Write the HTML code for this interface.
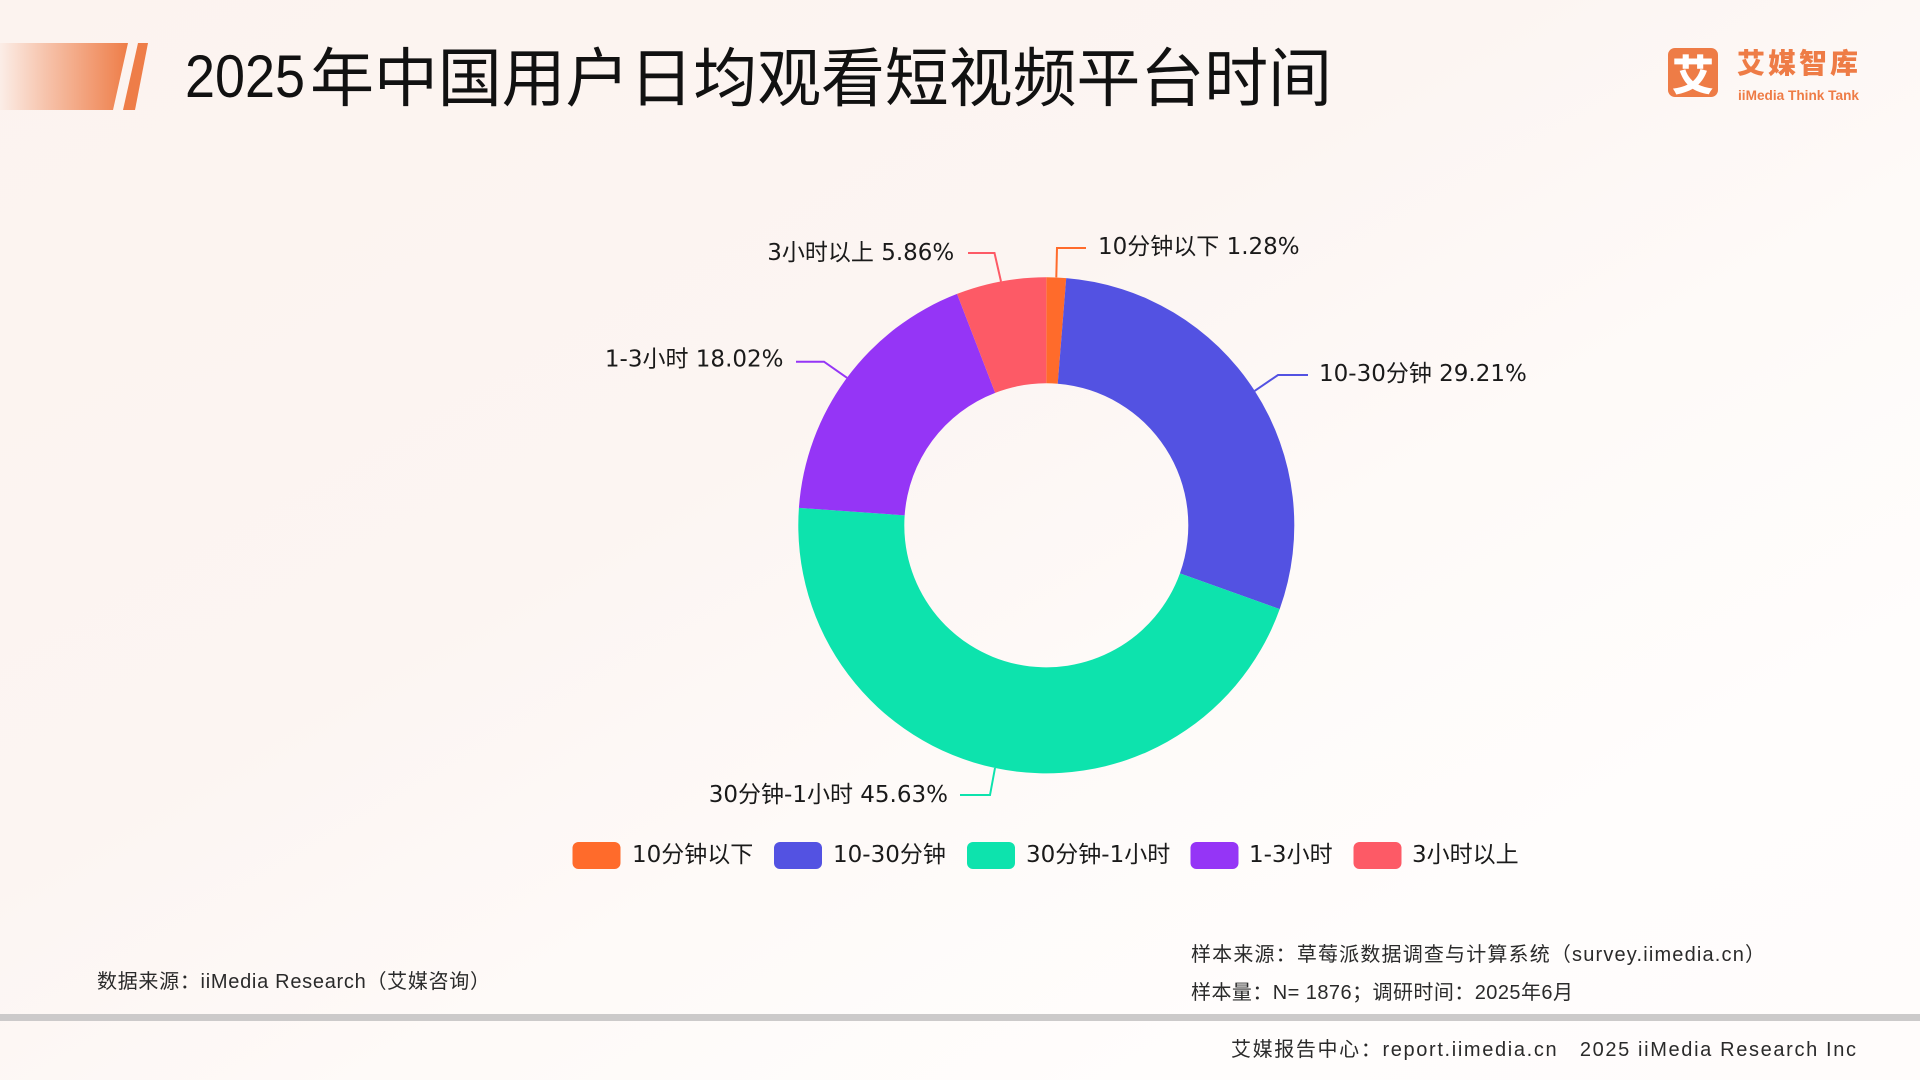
<!DOCTYPE html>
<html>
<head>
<meta charset="utf-8">
<style>
  html,body{margin:0;padding:0;}
  body{width:1920px;height:1080px;overflow:hidden;
    background:linear-gradient(150deg,#FCF3EF 0%,#FCF5F2 40%,#FEFAF8 60%,#FFFDFC 80%,#FFFCFB 100%);}
  svg{display:block;}
  .pre{white-space:pre;}
</style>
</head>
<body>
<svg width="1920" height="1080" viewBox="0 0 1920 1080" xmlns="http://www.w3.org/2000/svg">
  <defs>
    <linearGradient id="bar" x1="0" y1="0" x2="1" y2="0">
      <stop offset="0" stop-color="#EE7D48" stop-opacity="0.05"/>
      <stop offset="0.35" stop-color="#EE7D48" stop-opacity="0.4"/>
      <stop offset="1" stop-color="#EE7D48" stop-opacity="1"/>
    </linearGradient>
  </defs>

  <!-- header decoration -->
  <polygon points="0,43 128,43 113,110 0,110" fill="url(#bar)"/>
  <polygon points="138,43 148,43 135,110 123,110" fill="#EE7D48"/>

  <!-- title -->
  <text x="185" y="97" font-family="Liberation Sans, sans-serif" font-size="60" textLength="120" lengthAdjust="spacingAndGlyphs" fill="#111">2025</text>
  <text x="310" y="101" font-family="Noto Sans CJK SC, sans-serif" font-size="64" textLength="1022" lengthAdjust="spacing" fill="#111">年中国用户日均观看短视频平台时间</text>

  <!-- logo -->
  <rect x="1668" y="48" width="50" height="49" rx="7" fill="#EE7C46"/>
  <text x="1693" y="73" text-anchor="middle" dominant-baseline="central" font-family="Noto Sans CJK SC, sans-serif" font-weight="900" font-size="42" fill="#fff">艾</text>
  <text x="1737" y="62" dominant-baseline="central" font-family="Noto Sans CJK SC, sans-serif" font-weight="900" font-size="28" textLength="121" lengthAdjust="spacing" fill="#EE7C46">艾媒智库</text>
  <text x="1738" y="100" font-family="Liberation Sans, sans-serif" font-weight="700" font-size="13.5" textLength="121" lengthAdjust="spacingAndGlyphs" fill="#EE7C46">iiMedia Think Tank</text>

  <!-- donut -->
  <path d="M1046.3,277.3 A248,248 0 0 1 1066.22,278.10 L1057.71,383.76 A142,142 0 0 0 1046.3,383.3 Z" fill="#FF6B2B"/>
  <path d="M1066.22,278.10 A248,248 0 0 1 1279.69,609.17 L1179.94,573.32 A142,142 0 0 0 1057.71,383.76 Z" fill="#5352E2"/>
  <path d="M1279.69,609.17 A248,248 0 0 1 798.91,507.86 L904.65,515.32 A142,142 0 0 0 1179.94,573.32 Z" fill="#0DE3AD"/>
  <path d="M798.91,507.86 A248,248 0 0 1 957.04,293.92 L995.19,392.82 A142,142 0 0 0 904.65,515.32 Z" fill="#9535F6"/>
  <path d="M957.04,293.92 A248,248 0 0 1 1046.3,277.3 L1046.3,383.3 A142,142 0 0 0 995.19,392.82 Z" fill="#FD5A66"/>

  <!-- leader lines -->
  <g fill="none" stroke-width="2">
    <polyline points="1056.3,277.3 1057,248 1086,248" stroke="#FF6B2B"/>
    <polyline points="1254.6,390.9 1278,375 1308,375" stroke="#5352E2"/>
    <polyline points="995,768 990,795 960,795" stroke="#0DE3AD"/>
    <polyline points="847,377.8 824,361.7 796,361.7" stroke="#9535F6"/>
    <polyline points="1001,281.5 994.5,253 968,253" stroke="#FD5A66"/>
  </g>

  <!-- labels -->
  <g font-family="DejaVu Sans, Noto Sans CJK SC, sans-serif" font-size="23" fill="#1a1a1a" dominant-baseline="central">
    <text x="1098" y="247">10分钟以下 1.28%</text>
    <text x="1319" y="374">10-30分钟 29.21%</text>
    <text x="948" y="795" text-anchor="end">30分钟-1小时 45.63%</text>
    <text x="783.5" y="359.5" text-anchor="end">1-3小时 18.02%</text>
    <text x="954.3" y="253" text-anchor="end">3小时以上 5.86%</text>
  </g>

  <!-- legend -->
  <g>
    <rect x="572.5" y="842" width="48" height="27" rx="6" fill="#FF6B2B"/>
    <rect x="774" y="842" width="48" height="27" rx="6" fill="#5352E2"/>
    <rect x="967" y="842" width="48" height="27" rx="6" fill="#0DE3AD"/>
    <rect x="1190.5" y="842" width="48" height="27" rx="6" fill="#9535F6"/>
    <rect x="1353.5" y="842" width="48" height="27" rx="6" fill="#FD5A66"/>
  </g>
  <g font-family="DejaVu Sans, Noto Sans CJK SC, sans-serif" font-size="23" fill="#1a1a1a" dominant-baseline="central">
    <text x="632" y="855">10分钟以下</text>
    <text x="833" y="855">10-30分钟</text>
    <text x="1026" y="855">30分钟-1小时</text>
    <text x="1249" y="855">1-3小时</text>
    <text x="1412" y="855">3小时以上</text>
  </g>

  <!-- footer -->
  <g font-family="Liberation Sans, Noto Sans CJK SC, sans-serif" font-size="20" fill="#2a2a2a" dominant-baseline="central">
    <text x="97" y="982" textLength="393" lengthAdjust="spacing">数据来源：iiMedia Research（艾媒咨询）</text>
    <text x="1191" y="955" textLength="574" lengthAdjust="spacing">样本来源：草莓派数据调查与计算系统（survey.iimedia.cn）</text>
    <text x="1191" y="993" textLength="382" lengthAdjust="spacing">样本量：N= 1876；调研时间：2025年6月</text>
    <text class="pre" xml:space="preserve" x="1231" y="1050" textLength="625" lengthAdjust="spacing">艾媒报告中心：report.iimedia.cn   2025 iiMedia Research Inc</text>
  </g>
  <rect x="0" y="1014" width="1920" height="7" fill="#CCCACA"/>
</svg>
</body>
</html>
